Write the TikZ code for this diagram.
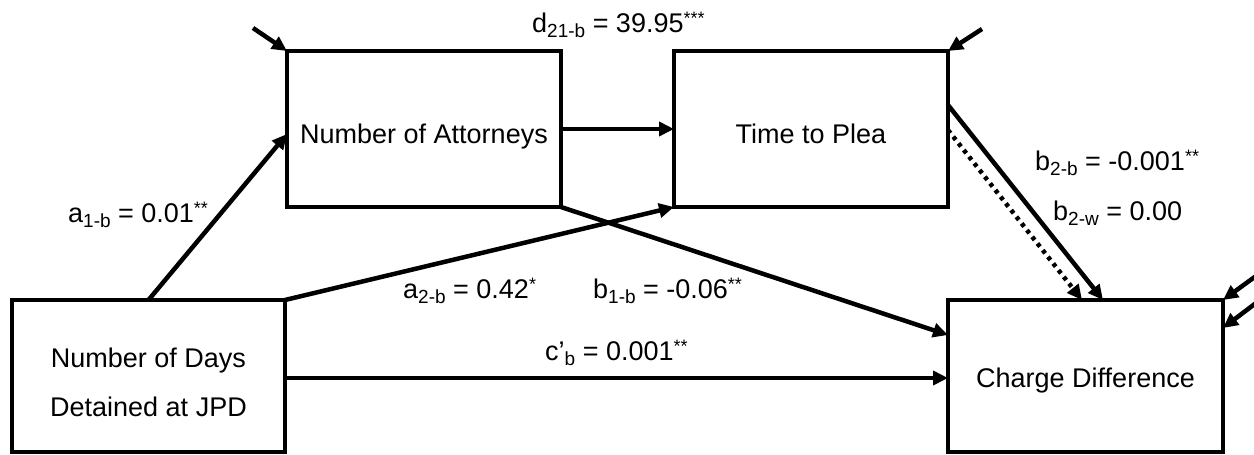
\documentclass[tikz,border=0pt]{standalone}
\usepackage{fontspec}
\setmainfont{Liberation Sans}
\usetikzlibrary{arrows.meta}
\newcommand\lsub[1]{\raisebox{-5.5pt}{\fontsize{19}{19}\selectfont #1}}
\newcommand\lsup[1]{\raisebox{8pt}{\fontsize{18}{18}\selectfont #1}}
\begin{document}
\begin{tikzpicture}[x=1pt,y=-1pt,
  font=\fontsize{27}{49}\selectfont,
  box/.style={draw, line width=4.5pt, inner sep=0pt, outer sep=0pt},
  txt/.style={inner sep=0pt, text height=20pt, text depth=6pt},
  lbl/.style={inner sep=0pt, anchor=base west},
  conn/.style={line width=4.5pt, -{Triangle[length=15pt,width=14pt]}},
  dotconn/.style={line width=4.5pt, dash pattern=on 4pt off 4.5pt, -{Triangle[length=15pt,width=14pt]}}]
\useasboundingbox (0,0) rectangle (1254,455);
\clip (0,0) rectangle (1254,455);
% boxes
\node[box, minimum width=274pt, minimum height=156pt] (att) at (424,129) {};
\node[box, minimum width=274pt, minimum height=156pt] (plea) at (811,129) {};
\node[box, minimum width=273pt, minimum height=152pt] (days) at (148.5,376) {};
\node[box, minimum width=275pt, minimum height=152pt] (charge) at (1085.5,376) {};
% box texts
\node[txt] (attT) at ([yshift=-7pt]att.center) {Number of Attorneys};
\node[txt] (pleaT) at ([yshift=-7pt]plea.center) {Time to Plea};
\node[inner sep=0pt, align=center] (daysT) at ([yshift=-6.6pt]days.center) {Number of Days\\Detained at JPD};
\node[txt] (chargeT) at ([yshift=-4pt]charge.center) {Charge Difference};
% error terms
\coordinate (e1) at (253,28);
\coordinate (e2) at (982,29);
\coordinate (e3) at (1256,276);
\coordinate (e4) at (1256,303);
\draw[conn] (e1) -- (att.north west);
\draw[conn] (e2) -- (plea.north east);
\draw[conn] (e3) -- (charge.north east);
\draw[conn] (e4) -- ([yshift=48pt]charge.east);
% paths
\draw[conn] (days.north) -- ([yshift=-5pt]att.west);
\draw[conn] (att.east) -- (plea.west);
\draw[conn] (days.north east) -- (plea.south west);
\draw[conn] (att.south east) -- ([yshift=41pt]charge.west);
\draw[conn] ([yshift=-2pt]days.east) -- ([yshift=-2pt]charge.west);
\draw[conn] ([yshift=24pt]plea.east) -- ([xshift=17.5pt]charge.north);
\draw[dotconn] ([yshift=-1pt]plea.east) -- ([xshift=-3.5pt]charge.north);
% labels
\node[lbl] (ld) at (532,32) {d\lsub{21-b} = 39.95\lsup{***}};
\node[lbl] (la1) at (68,222) {a\lsub{1-b} = 0.01\lsup{**}};
\node[lbl] (la2) at (403,298) {a\lsub{2-b} = 0.42\lsup{*}};
\node[lbl] (lb1) at (593,298) {b\lsub{1-b} = -0.06\lsup{**}};
\node[lbl] (lc) at (545,360) {c’\lsub{b} = 0.001\lsup{**}};
\node[lbl] (lb2b) at (1035,170) {b\lsub{2-b} = -0.001\lsup{**}};
\node[lbl] (lb2w) at (1053,220) {b\lsub{2-w} = 0.00};
\end{tikzpicture}
\end{document}
